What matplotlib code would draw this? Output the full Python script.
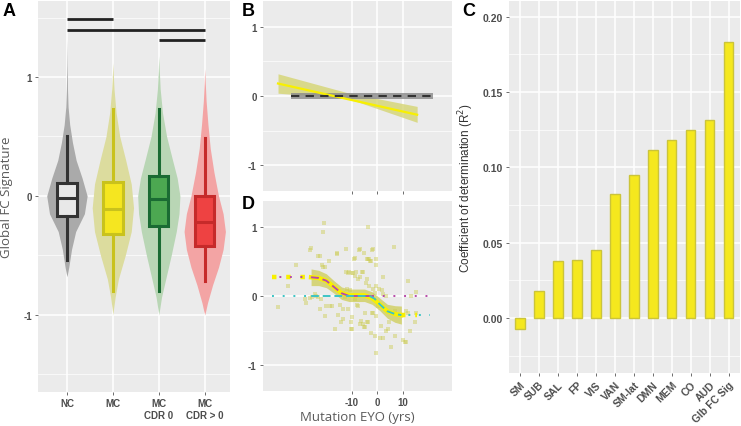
import numpy as np
import matplotlib
matplotlib.use("Agg")
import matplotlib.pyplot as plt

# ---- panel A data ----
groups = ["NC", "MC", "MC\nCDR 0", "MC\nCDR > 0"]
box_q1 = [-0.17, -0.32, -0.25, -0.42]
box_med = [-0.02, -0.11, -0.03, -0.22]
box_q3 = [0.11, 0.12, 0.17, 0.0]
whisk_lo = [-0.54, -0.80, -0.80, -0.72]
whisk_hi = [0.50, 0.73, 0.73, 0.49]

# violin outlines (y level, half width)
vio_nc_y = [1.32, 1.1, 0.9, 0.75, 0.6, 0.45, 0.3, 0.15, 0.0, -0.15, -0.3, -0.45, -0.6, -0.68]
vio_nc_w = [0.0, 0.005, 0.012, 0.025, 0.06, 0.12, 0.2, 0.33, 0.44, 0.38, 0.19, 0.1, 0.04, 0.0]
vio_mc_y = [1.12, 1.0, 0.9, 0.7, 0.5, 0.3, 0.1, -0.1, -0.3, -0.5, -0.7, -0.85, -0.95, -1.0]
vio_mc_w = [0.0, 0.012, 0.025, 0.07, 0.15, 0.28, 0.40, 0.45, 0.40, 0.27, 0.12, 0.05, 0.015, 0.0]
vio_c0_y = [1.18, 1.05, 0.9, 0.7, 0.5, 0.3, 0.15, 0.0, -0.15, -0.3, -0.5, -0.7, -0.85, -0.95, -1.0]
vio_c0_w = [0.0, 0.012, 0.03, 0.08, 0.17, 0.3, 0.4, 0.46, 0.44, 0.38, 0.27, 0.15, 0.06, 0.02, 0.0]
vio_c1_y = [1.07, 0.95, 0.8, 0.6, 0.4, 0.2, 0.0, -0.15, -0.3, -0.45, -0.6, -0.75, -0.9, -0.97, -1.0]
vio_c1_w = [0.0, 0.012, 0.03, 0.07, 0.12, 0.2, 0.30, 0.40, 0.45, 0.40, 0.30, 0.17, 0.06, 0.02, 0.0]

# significance bars (from group, to group, height)
sig_from = [1, 1, 3]
sig_to = [2, 4, 4]
sig_y = [1.49, 1.40, 1.31]

# ---- panel B data ----
lin_x = [-39, 15.7]
lin_y = [0.18, -0.27]
lin_band_x = [-39, -12, 15.7]
lin_band_lo = [0.04, -0.03, -0.38]
lin_band_hi = [0.32, 0.05, -0.15]
nc_x = [-34, 22]
nc_y = [0.0, 0.0]
nc_band = 0.045

# ---- panel D data ----
eyo_x = [-20.9, -21.5, -3.6, -26.2, -26.5, -23.2, -22.6, -12.1, -7.1, -1.9, 6.6, -16.0,
         -9.2, -3.7, -2.9, -32.0, -20.6, -21.4, -12.1, -11.4, -9.7, -5.6, 2.3, -4.2, -6.9,
         -35.2, -27.8, -28.4, -38.9, -22.5, -20.2, -15.4, -16.7, -10.1, -10.1, -6.2, -5.6,
         -4.9, -4.2, -2.3, -1.0, -0.6, 1.6, 2.3, 3.6, 10.1, 10.8, 12.7, 14.7, -1.9, 0.3,
         -7.5, -11.8, -10.8, -14.0, 6.9, -15.8, -18.9, -21.8, -11.0, -8.2, -25.8, -23.2,
         -18.6, -17.6, -14.7, -12.7, -8.8, -6.9, -5.3, -1.6, -8.8, -4.0, -3.2, -2.3, -0.6,
         -0.3, -10.0, -5.8, -8.8, -7.5, -4.5, -3.2, -1.6, -0.3, 0.7, 12.1, 15.4, 3.6, 13.4,
         -13.6, -13.4, -7.9, -4.9, -3.6, -6.6, -5.3, -1.6, -0.3, 4.2, 1.0, 6.9, 11.2, 5.6,
         11.4, 12.1, 15.1, -1.0, 2.0, 2.3, 4.6, -13.4, -26.5, -23.9, -22.2, -20.6, -14.4,
         -11.4, -10.5, -10.4, -24.5]
eyo_fc = [1.05, 0.92, 1.0, 0.69, 0.66, 0.58, 0.58, 0.68, 0.67, 0.67, 0.70, 0.61,
          0.54, 0.54, 0.50, 0.45, 0.42, 0.42, 0.34, 0.33, 0.33, 0.35, 0.28, 0.25, 0.27,
          0.14, -0.10, -0.05, -0.16, -0.19, -0.14, -0.28, -0.47, -0.31, -0.48, -0.36, -0.41,
          -0.45, -0.38, -0.53, -0.58, -0.82, -0.43, -0.60, -0.50, -0.64, -0.67, -0.50, -0.38,
          -0.24, -0.14, -0.14, 0.10, 0.08, 0.03, -0.21, 0.62, 0.50, 0.45, 0.35, 0.34, -0.02,
          -0.02, -0.14, -0.14, -0.13, -0.02, -0.04, 0.68, 0.62, 0.68, 0.55, 0.54, 0.53, 0.51,
          0.53, 0.45, 0.33, 0.35, 0.29, 0.25, 0.19, 0.14, 0.10, 0.14, 0.10, 0.21, 0.06, 0.0,
          0.0, 0.05, -0.19, -0.13, -0.24, -0.37, -0.41, -0.45, -0.25, -0.29, -0.48, -0.60,
          -0.57, -0.67, -0.73, -0.21, -0.24, -0.25, 0.05, 0.08, 0.03, -0.37, -0.33, -0.03,
          0.0, -0.04, -0.29, -0.38, -0.19, -0.37, -0.48, 0.03]
fit_x = [-26, -23, -20, -17, -14, -11, -8, -5, -2, 1, 4, 7, 9.5]
fit_y = [0.27, 0.26, 0.22, 0.13, 0.04, 0.01, 0.01, 0.01, -0.03, -0.12, -0.22, -0.26, -0.275]
fit_half = [0.12, 0.11, 0.10, 0.09, 0.09, 0.09, 0.09, 0.09, 0.09, 0.09, 0.10, 0.12, 0.13]
mag_x = [-26, -23, -20, -17, -14, -11, -2]
mag_y = [0.27, 0.26, 0.22, 0.13, 0.04, 0.0, 0.0]
cyan_x = [-26, -3, -1, 1, 4, 7, 9.5]
cyan_y = [0.0, 0.0, -0.04, -0.12, -0.22, -0.26, -0.275]
ext_left_x = [-41.4, -26]
ext_right_x = [9.5, 20.6]
yellow_right_end = 15.5
plateau_hi = 0.27
plateau_lo = -0.275

# ---- panel C data ----
networks = ["SM", "SUB", "SAL", "FP", "VIS", "VAN", "SM-lat", "DMN", "MEM", "CO", "AUD", "Glb FC Sig"]
r2 = [-0.007, 0.0177, 0.0379, 0.0388, 0.045, 0.0822, 0.0948, 0.1116, 0.118, 0.1247, 0.1313, 0.1834]

W, H = 741, 427
fig = plt.figure(figsize=(W / 100, H / 100), dpi=100)
fig.patch.set_facecolor("white")


def rect(l, t, r, b):
    return [l / W, 1 - b / H, (r - l) / W, (b - t) / H]


def gg(ax, size=7):
    ax.set_facecolor("#ebebeb")
    for s in ax.spines.values():
        s.set_visible(False)
    ax.grid(True, which="major", color="white", lw=1.1)
    ax.grid(True, which="minor", color="white", lw=0.5)
    ax.set_axisbelow(True)
    ax.tick_params(which="major", length=2.5, width=0.6, color="#555555",
                   labelcolor="#4d4d4d", labelsize=size, pad=2)
    ax.tick_params(which="minor", length=0)
    for t in ax.get_xticklabels() + ax.get_yticklabels():
        t.set_fontweight("bold")
        t.set_family("Liberation Sans")


# ================= A =================
axA = fig.add_axes(rect(38, 2, 230, 393))
pos = np.arange(1, 5)
vio_y = [vio_nc_y, vio_mc_y, vio_c0_y, vio_c1_y]
vio_w = [vio_nc_w, vio_mc_w, vio_c0_w, vio_c1_w]
vio_col = ["#aaaaaa", "#dcdc9e", "#b9d6b5", "#f3a4a4"]
box_fill = ["#e8e8e8", "#f5e620", "#4ca851", "#ee4242"]
box_edge = ["#333333", "#c9c21c", "#1a6b33", "#c62a2a"]
for i in range(4):
    vy = np.array(vio_y[i])
    vw = np.array(vio_w[i])
    axA.fill_betweenx(vy, pos[i] - vw, pos[i] + vw, color=vio_col[i], lw=0, zorder=2)

stats = []
for i in range(4):
    stats.append(dict(med=box_med[i], q1=box_q1[i], q3=box_q3[i],
                      whislo=whisk_lo[i], whishi=whisk_hi[i], fliers=[]))
bp = axA.bxp(stats, positions=pos, widths=0.42, patch_artist=True,
             showfliers=False, showcaps=False, zorder=3)
for i in range(4):
    bp["boxes"][i].set(facecolor=box_fill[i], edgecolor=box_edge[i], lw=2.2)
    bp["medians"][i].set(color=box_edge[i], lw=2.2)
    bp["whiskers"][2 * i].set(color=box_edge[i], lw=2.2)
    bp["whiskers"][2 * i + 1].set(color=box_edge[i], lw=2.2)

for a, b, y in zip(sig_from, sig_to, sig_y):
    axA.plot([a, b], [y, y], color="#222222", lw=2, solid_capstyle="butt", zorder=4)

axA.set_xlim(0.37, 4.55)
axA.set_ylim(-1.65, 1.64)
axA.set_xticks(pos)
axA.set_xticklabels(groups)
axA.set_yticks([-1, 0, 1])
axA.set_yticklabels(["-1", "0", "1"])
axA.set_yticks([-1.5, -0.5, 0.5, 1.5], minor=True)
gg(axA)
axA.grid(False, axis="x", which="minor")
axA.set_ylabel("Global FC Signature", family="Open Sans", fontsize=9.5, color="#5a5a5a", labelpad=7)
fig.text(3 / W, 1 - 16 / H, "A", fontsize=13, fontweight="bold", family="Liberation Sans")

# ================= B =================
axB = fig.add_axes(rect(263, 2, 452, 192))
axB.fill_between(lin_band_x, lin_band_lo, lin_band_hi, color="#d4d36a", alpha=0.75, lw=0, zorder=2)
axB.fill_between(nc_x, np.array(nc_y) - nc_band, np.array(nc_y) + nc_band,
                 color="#8e8e8e", alpha=0.85, lw=0, zorder=2)
axB.plot(lin_x, lin_y, color="#f8f000", lw=1.6, zorder=3)
axB.plot(nc_x, nc_y, color="#333333", lw=1.5, ls=(0, (4, 3)), zorder=4)
axB.set_xlim(-44.9, 29.4)
axB.set_ylim(-1.37, 1.37)
axB.set_xticks([-10, 0, 10])
axB.set_xticklabels([])
axB.set_yticks([-1, 0, 1])
axB.set_yticklabels(["-1", "0", "1"])
axB.set_yticks([-0.5, 0.5], minor=True)
gg(axB)
fig.text(242 / W, 1 - 16 / H, "B", fontsize=13, fontweight="bold", family="Liberation Sans")

# ================= D =================
axD = fig.add_axes(rect(263, 202, 452, 392))
axD.scatter(eyo_x, eyo_fc, s=5, marker="s", color="#cccc55", alpha=0.45, lw=0, zorder=2)
fx = np.array(fit_x)
fy = np.array(fit_y)
fh = np.array(fit_half)
axD.fill_between(fx, fy - fh, fy + fh, color="#cccb4a", alpha=0.7, lw=0, zorder=3)
axD.plot(fx, fy, color="#f8f000", lw=3.2, zorder=4)
axD.plot(ext_left_x, [plateau_hi] * 2, color="#f8f000", lw=3.2, ls=(0, (1, 2.2)), zorder=4)
axD.plot([ext_right_x[0], yellow_right_end], [plateau_lo] * 2, color="#f8f000", lw=3.2,
         ls=(0, (1, 2.2)), zorder=4)
axD.plot(ext_left_x, [plateau_hi] * 2, color="#b84aa8", lw=1.4, ls=(1.6, (1, 4.4)), zorder=5)
axD.plot(mag_x, mag_y, color="#b84aa8", lw=1.4, ls=(0, (4, 2)), zorder=5)
axD.plot([mag_x[-1], ext_right_x[1]], [0, 0], color="#b84aa8", lw=1.4, ls=(0, (1, 4.5)), zorder=5)
axD.plot(ext_left_x, [0, 0], color="#3cc4c4", lw=1.4, ls=(0, (1, 4.5)), zorder=5)
axD.plot(cyan_x, cyan_y, color="#3cc4c4", lw=1.4, ls=(0, (4, 2)), zorder=5)
axD.plot(ext_right_x, [plateau_lo] * 2, color="#3cc4c4", lw=1.4, ls=(1.6, (1, 4.4)), zorder=5)
axD.set_xlim(-44.9, 29.4)
axD.set_ylim(-1.37, 1.37)
axD.set_xticks([-10, 0, 10])
axD.set_xticklabels(["-10", "0", "10"])
axD.set_yticks([-1, 0, 1])
axD.set_yticklabels(["-1", "0", "1"])
axD.set_yticks([-0.5, 0.5], minor=True)
gg(axD)
axD.grid(False, axis="x", which="minor")
axD.set_xlabel("Mutation EYO (yrs)", family="Open Sans", fontsize=9.5, color="#5a5a5a", labelpad=2)
fig.text(242 / W, 1 - 209 / H, "D", fontsize=13, fontweight="bold", family="Liberation Sans")

# ================= C =================
axC = fig.add_axes(rect(509, 2, 740, 374))
xc = np.arange(1, len(networks) + 1)
axC.bar(xc, r2, width=0.5, color="#f5e81e", edgecolor="#cbc43a", lw=1, zorder=3)
axC.set_xlim(0.42, 12.6)
axC.set_ylim(-0.0365, 0.2105)
axC.set_xticks(xc)
axC.set_xticklabels(networks, rotation=45, ha="right", rotation_mode="anchor")
axC.set_yticks([0.0, 0.05, 0.10, 0.15, 0.20])
axC.set_yticklabels(["0.00", "0.05", "0.10", "0.15", "0.20"])
axC.set_yticks([-0.025, 0.025, 0.075, 0.125, 0.175], minor=True)
gg(axC, size=7.5)
axC.grid(False, axis="x", which="minor")
axC.set_ylabel("Coefficient of determination (R$^2$)", family="Liberation Sans",
               fontsize=8.5, color="#333333", labelpad=5)
fig.text(462 / W, 1 - 16 / H, "C", fontsize=13, fontweight="bold", family="Liberation Sans")

fig.savefig("out.png", dpi=100)
